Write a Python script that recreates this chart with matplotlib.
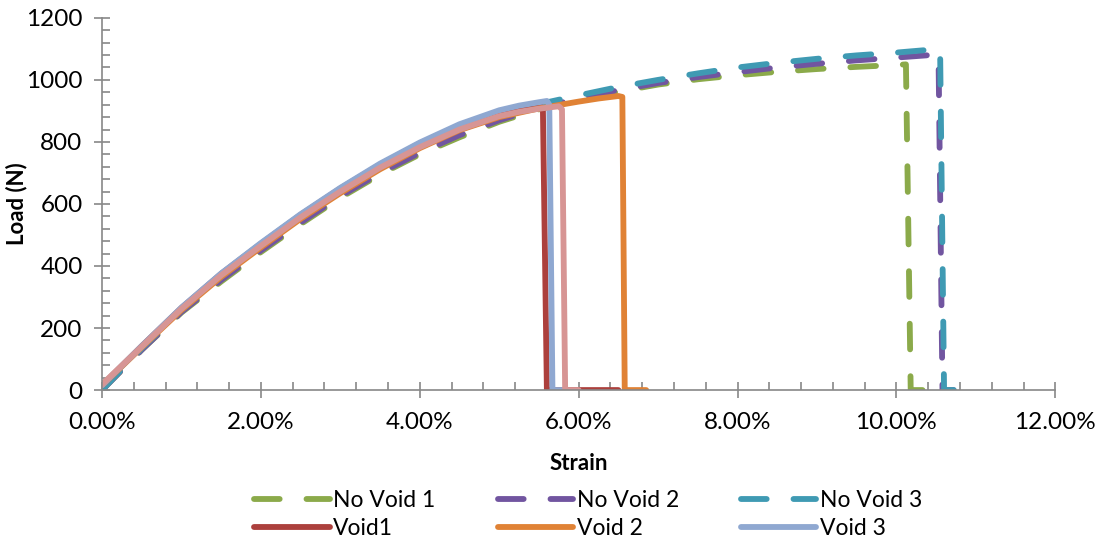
import matplotlib.pyplot as plt
from matplotlib.ticker import MultipleLocator, FuncFormatter

plt.rcParams['font.family'] = ['Lato', 'DejaVu Sans']

# strain in %, load in N
nv1_strain = [0.0, 0.5, 1.0, 1.5, 2.0, 2.5, 3.0, 3.5, 4.0, 4.5, 5.0, 5.5, 6.0, 6.5, 7.0, 7.5, 8.0, 8.5, 9.0, 9.5, 10.0, 10.12, 10.18, 10.45]
nv1_load = [0, 130, 250, 350, 445, 535, 620, 695, 760, 815, 865, 905, 935, 962, 985, 1002, 1015, 1026, 1035, 1042, 1048, 1050, 0, 0]

nv2_strain = [0.0, 0.5, 1.0, 1.5, 2.0, 2.5, 3.0, 3.5, 4.0, 4.5, 5.0, 5.5, 6.0, 6.5, 7.0, 7.5, 8.0, 8.5, 9.0, 9.5, 10.0, 10.53, 10.58, 10.72]
nv2_load = [0, 130, 252, 355, 450, 540, 625, 700, 765, 822, 870, 910, 940, 967, 990, 1009, 1025, 1040, 1052, 1063, 1072, 1082, 0, 0]

nv3_strain = [0.0, 0.5, 1.0, 1.5, 2.0, 2.5, 3.0, 3.5, 4.0, 4.5, 5.0, 5.5, 6.0, 6.5, 7.0, 7.5, 8.0, 8.5, 9.0, 9.5, 10.0, 10.55, 10.6, 10.9]
nv3_load = [0, 135, 258, 365, 462, 555, 640, 718, 785, 843, 890, 922, 950, 977, 1000, 1021, 1040, 1055, 1068, 1079, 1088, 1100, 0, 0]

v1_strain = [0.0, 0.5, 1.0, 1.5, 2.0, 2.5, 3.0, 3.5, 4.0, 4.5, 5.0, 5.25, 5.5, 5.55, 5.6, 6.5]
v1_load = [15, 142, 265, 375, 472, 565, 650, 727, 795, 853, 898, 912, 922, 905, 0, 0]

v2_strain = [0.0, 0.5, 1.0, 1.5, 2.0, 2.5, 3.0, 3.5, 4.0, 4.5, 5.0, 5.5, 6.0, 6.25, 6.5, 6.55, 6.58, 6.85]
v2_load = [15, 138, 258, 365, 460, 552, 635, 712, 780, 838, 880, 908, 930, 940, 948, 945, 0, 0]

v3_strain = [0.0, 0.5, 1.0, 1.5, 2.0, 2.5, 3.0, 3.5, 4.0, 4.5, 5.0, 5.25, 5.5, 5.6, 5.63, 5.67, 5.85]
v3_load = [15, 142, 266, 376, 474, 567, 652, 730, 798, 857, 902, 917, 928, 932, 920, 0, 0]

v4_strain = [0.0, 0.5, 1.0, 1.5, 2.0, 2.5, 3.0, 3.5, 4.0, 4.5, 5.0, 5.25, 5.5, 5.75, 5.79, 5.83, 6.0]
v4_load = [18, 140, 262, 370, 465, 557, 640, 717, 783, 840, 883, 897, 907, 915, 905, 0, 0]

fig = plt.figure(figsize=(11.02, 5.41), dpi=100)
ax = fig.add_axes([0.0926, 0.279, 0.865, 0.688])

dash = (4.4, 4.6)
lw = 4.2
kw = dict(lw=lw, dash_capstyle='round', solid_capstyle='round', solid_joinstyle='round')
ax.plot(nv1_strain, nv1_load, color='#8BAA4A', dashes=dash, label='No Void 1', **kw)
ax.plot(nv2_strain, nv2_load, color='#7155A0', dashes=dash, label='No Void 2', **kw)
ax.plot(nv3_strain, nv3_load, color='#3F9AB3', dashes=dash, label='No Void 3', **kw)
ax.plot(v1_strain, v1_load, color='#AC403D', label='Void1', **kw)
ax.plot(v2_strain, v2_load, color='#E08235', label='Void 2', **kw)
ax.plot(v3_strain, v3_load, color='#8FA8D1', label='Void 3', **kw)
ax.plot(v4_strain, v4_load, color='#D79594', label='_Void 4', **kw)

ax.set_xlim(0, 12)
ax.set_ylim(0, 1200)
ax.xaxis.set_major_locator(MultipleLocator(2))
ax.xaxis.set_minor_locator(MultipleLocator(0.4))
ax.yaxis.set_major_locator(MultipleLocator(200))
ax.yaxis.set_minor_locator(MultipleLocator(40))
ax.xaxis.set_major_formatter(FuncFormatter(lambda v, p: '%.2f%%' % v))

for s in ['top', 'right']:
    ax.spines[s].set_visible(False)
for s in ['left', 'bottom']:
    ax.spines[s].set_color('#888888')
    ax.spines[s].set_linewidth(1.2)
ax.tick_params(which='major', direction='inout', length=12, width=1.2, color='#888888', labelsize=17.5, pad=8)
ax.tick_params(which='minor', direction='in', length=6, width=1.2, color='#888888')
ax.tick_params(axis='x', which='major', pad=10)

ax.set_xlabel('Strain', fontsize=16, fontweight='bold', labelpad=14)
ax.set_ylabel('Load (N)', fontsize=16, fontweight='bold')
ax.yaxis.set_label_coords(-0.078, 0.5)

h, l = ax.get_legend_handles_labels()
order = [0, 3, 1, 4, 2, 5]
ax.legend([h[i] for i in order], [l[i] for i in order], ncol=3, loc='upper center',
          bbox_to_anchor=(0.51, -0.238), frameon=False, fontsize=16.5, handlelength=3.3,
          columnspacing=2.7, handletextpad=0.15, labelspacing=0.3, borderpad=0)

fig.savefig('out.png')
